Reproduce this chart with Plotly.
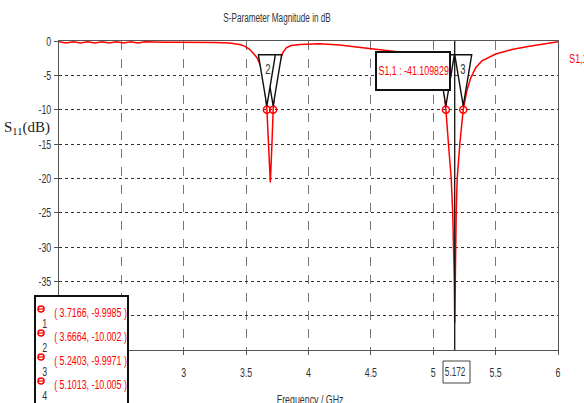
import plotly.graph_objects as go

# ---------------- data ----------------
freq_ghz = [2.0, 2.057, 2.115, 2.172, 2.23, 2.287, 2.345, 2.402, 2.46, 2.517, 2.575,
            2.632, 2.69, 2.75, 2.85, 2.95, 3.05, 3.15, 3.25, 3.368, 3.448, 3.488,
            3.528, 3.568, 3.59, 3.62, 3.645, 3.6664, 3.68, 3.694, 3.707, 3.7166,
            3.735, 3.76, 3.794, 3.822, 3.86, 3.93, 4.09, 4.25, 4.4, 4.57, 4.73,
            4.85, 4.95, 5.02, 5.06, 5.085, 5.1013, 5.122, 5.144, 5.156, 5.164,
            5.169, 5.172, 5.175, 5.18, 5.184, 5.192, 5.213, 5.2403, 5.27, 5.30,
            5.34, 5.39, 5.5, 5.63, 5.77, 5.9, 5.98, 6.0]
s11_db = [-0.12, -0.3, -0.12, -0.3, -0.12, -0.3, -0.12, -0.3, -0.12, -0.3, -0.12,
          -0.3, -0.12, -0.18, -0.18, -0.18, -0.18, -0.2, -0.22, -0.3, -0.5, -0.75,
          -1.2, -2.0, -2.5, -3.8, -5.8, -10.0, -15.0, -20.6, -15.0, -10.0,
          -6.0, -3.5, -1.7, -1.0, -0.65, -0.5, -0.4, -0.6, -0.9, -1.25, -1.6,
          -2.0, -2.6, -3.6, -5.0, -7.0, -10.0, -15.0, -20.0, -25.0, -30.0,
          -35.0, -41.1, -35.0, -30.0, -25.0, -20.0, -15.0, -10.0, -7.2, -5.4,
          -3.9, -2.9, -1.9, -1.25, -0.75, -0.4, -0.15, -0.12]

marker_ids = ["1", "2", "3", "4"]
marker_freq = [3.7166, 3.6664, 5.2403, 5.1013]
marker_db = [-9.9985, -10.002, -9.9971, -10.005]
marker_text = ["( 3.7166, -9.9985 )", "( 3.6664, -10.002 )",
               "( 5.2403, -9.9971 )", "( 5.1013, -10.005 )"]

cursor_freq = 5.172
cursor_label = "5.172"
cursor_readout = "S1,1 : -41.109829"
trace_name = "S1,1"

# labels for -40 / 2 / 2.5 sit under the marker table in the original
y_tickvals = [0, -5, -10, -15, -20, -25, -30, -35, -40, -45]
y_ticktext = ["0", "-5", "-10", "-15", "-20", "-25", "-30", "-35", " ", " "]
x_tickvals = [2, 2.5, 3, 3.5, 4, 4.5, 5, 5.5, 6]
x_ticktext = [" ", " ", "3", "3.5", "4", "4.5", "5", "5.5", "6"]

title_text = "S-Parameter Magnitude in dB"
x_title = "Frequency / GHz"
y_title = "S<sub>11</sub>(dB)"

# ---------------- layout geometry ----------------
W, H = 584, 403
ML, MR, MT, MB = 59, 26, 41, 53
PW, PH = W - ML - MR, H - MT - MB


def px(x):
    return (x - ML) / PW


def py(y):
    return (H - MB - y) / PH


SANS = "Liberation Sans, Arial, sans-serif"
SERIF = "Liberation Serif, Times New Roman, serif"
RED = "#ff0000"
INK = "#333333"

fig = go.Figure()
fig.add_trace(go.Scatter(x=freq_ghz, y=s11_db, mode="lines",
                         line=dict(color=RED, width=1.5), name=trace_name,
                         showlegend=False, hoverinfo="skip"))
fig.add_trace(go.Scatter(x=marker_freq, y=marker_db, mode="markers",
                         marker=dict(symbol="circle-open", size=7,
                                     color=RED, line=dict(width=1.5)),
                         showlegend=False, hoverinfo="skip"))

shapes = []
# cursor line
shapes.append(dict(type="line", xref="x", yref="paper", x0=cursor_freq, x1=cursor_freq,
                   y0=0, y1=1, line=dict(color="#111", width=1.3), layer="above"))
# marker triangles (draw order 1,2,4,3)
hw = 0.068
for i in [0, 1, 3, 2]:
    xm = marker_freq[i]
    shapes.append(dict(type="path", xref="x", yref="y",
                       path=f"M {xm-hw},-2.0 L {xm+hw},-2.0 L {xm},-9.45 Z",
                       fillcolor="white", line=dict(color="#111", width=1.4),
                       layer="above"))
# readout box
shapes.append(dict(type="rect", xref="paper", yref="paper",
                   x0=px(376), x1=px(450), y0=py(90), y1=py(52),
                   fillcolor="white", line=dict(color="#111", width=2), layer="above"))
# cursor value box
shapes.append(dict(type="rect", xref="paper", yref="paper",
                   x0=px(443), x1=px(470), y0=py(383), y1=py(361),
                   fillcolor="white", line=dict(color="#444", width=1), layer="above"))
# legend box
shapes.append(dict(type="rect", xref="paper", yref="paper",
                   x0=px(35), x1=px(128), y0=py(410), y1=py(296),
                   fillcolor="white", line=dict(color="#111", width=2), layer="above"))
# legend icons
for k in range(4):
    cy = 309 + 24 * k
    shapes.append(dict(type="circle", xref="paper", yref="paper",
                       x0=px(38), x1=px(44), y0=py(cy + 3), y1=py(cy - 3),
                       line=dict(color=RED, width=1.5), layer="above"))
    shapes.append(dict(type="line", xref="paper", yref="paper",
                       x0=px(38.5), x1=px(43.5), y0=py(cy), y1=py(cy),
                       line=dict(color=RED, width=1.2), layer="above"))


def ann(text, x, y, size, color=INK, family=SANS, xref="paper"):
    return dict(text=text, xref=xref, yref="paper", x=x, y=y, showarrow=False,
                font=dict(family=family, size=size, color=color),
                xanchor="center", yanchor="middle")


annotations = [
    ann(title_text, px(277), py(18), 12),
    ann(x_title, px(310), py(399), 13),
    ann(y_title, px(27), py(128), 15, "#222", SERIF),
    ann(trace_name, px(578), py(58), 13, RED),
    ann(cursor_readout, px(413), py(71), 13, RED),
    ann(cursor_label, cursor_freq, py(372), 12, INK, SANS, "x"),
    ann(marker_ids[1], 3.674, py(69), 14, INK, SANS, "x"),
    ann(marker_ids[2], 5.2423, py(69), 14, INK, SANS, "x"),
]
for k in range(4):
    annotations.append(ann(marker_text[k], px(90), py(312 + 24 * k), 13, RED))
    annotations.append(ann(marker_ids[k], px(44), py(323 + 24 * k), 13, INK))

fig.update_layout(
    width=W, height=H,
    margin=dict(l=ML, r=MR, t=MT, b=MB, pad=0),
    paper_bgcolor="white", plot_bgcolor="white",
    shapes=shapes, annotations=annotations,
    showlegend=False,
    xaxis=dict(range=[2, 6], tickvals=x_tickvals, ticktext=x_ticktext,
               showgrid=True, gridcolor="#777", griddash="dash", gridwidth=1,
               showline=True, linecolor="#555", linewidth=1.3, mirror=True,
               ticks="outside", ticklen=4, tickcolor="#555", zeroline=False,
               ticklabelstandoff=6,
               tickfont=dict(family=SANS, size=13, color=INK)),
    yaxis=dict(range=[-45, 0], tickvals=y_tickvals, ticktext=y_ticktext,
               showgrid=True, gridcolor="#333", griddash="dot", gridwidth=1,
               showline=True, linecolor="#555", linewidth=1.3, mirror=True,
               ticks="outside", ticklen=4, tickcolor="#555", zeroline=False,
               tickfont=dict(family=SANS, size=13, color=INK)),
)

# remove default page margin and give the sans texts the narrow look of the original
post_js = """
document.body.style.margin = '0';
(function(){
  function squeeze(){
    var gd = document.getElementById('{plot_id}');
    if (!gd) return;
    gd.querySelectorAll('text').forEach(function(t){
      var ff = t.style.fontFamily || '';
      if (ff.indexOf('Liberation Sans') < 0) return;
      if (t.getAttribute('data-sq')) return;
      var bb = t.getBBox();
      var anc = t.getAttribute('text-anchor') || 'start';
      var cx = bb.x + bb.width / 2;
      if (anc === 'start') cx = bb.x;
      if (anc === 'end') cx = bb.x + bb.width;
      var tr = t.getAttribute('transform') || '';
      t.setAttribute('transform', tr + ' translate(' + cx + ',0) scale(0.68,1) translate(' + (-cx) + ',0)');
      t.setAttribute('data-sq', '1');
    });
  }
  squeeze();
  setTimeout(squeeze, 0);
})();
"""

fig.write_html("out.html", post_script=post_js, config={"displayModeBar": False})
